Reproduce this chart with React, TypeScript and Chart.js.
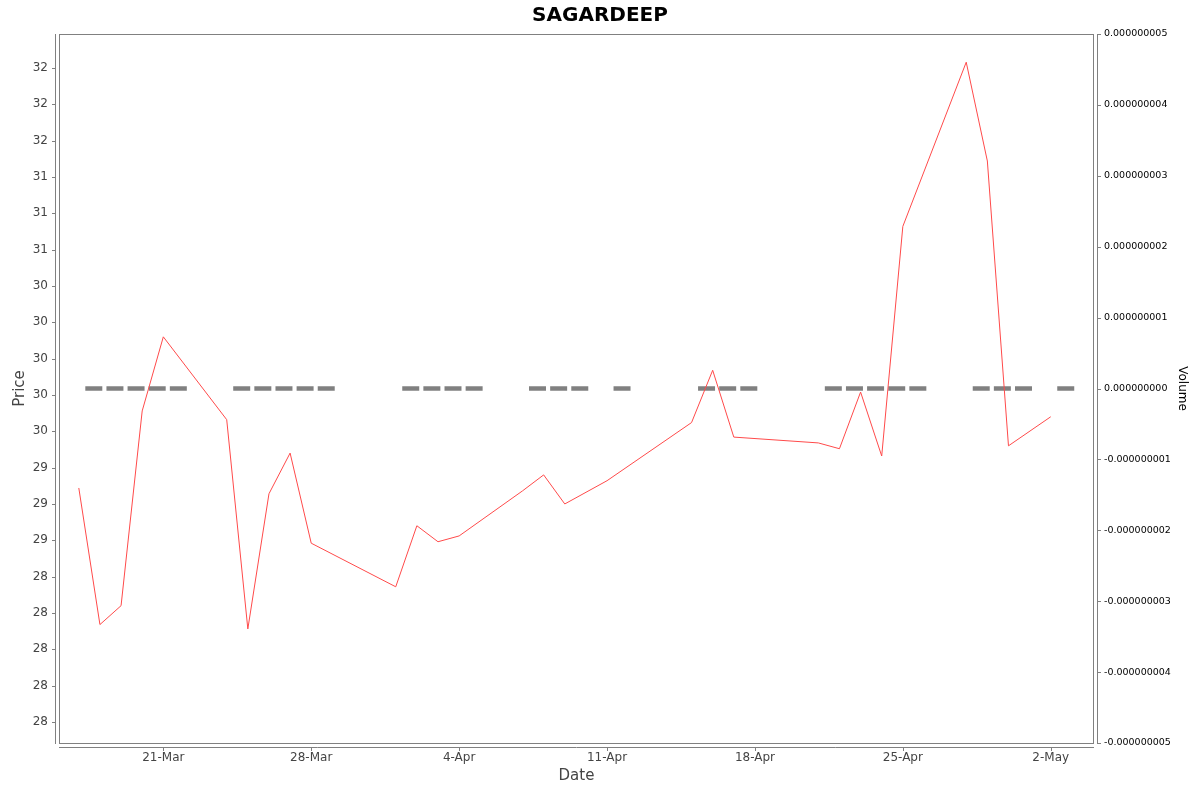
import React, { useEffect, useRef } from "react";
import { Chart, registerables } from "chart.js";

Chart.register(...registerables);

const TITLE = "SAGARDEEP";

const DATES = [
  "2025-03-17", "2025-03-18", "2025-03-19", "2025-03-20", "2025-03-21",
  "2025-03-24", "2025-03-25", "2025-03-26", "2025-03-27", "2025-03-28",
  "2025-04-01", "2025-04-02", "2025-04-03", "2025-04-04",
  "2025-04-07", "2025-04-08", "2025-04-09", "2025-04-11",
  "2025-04-15", "2025-04-16", "2025-04-17",
  "2025-04-21", "2025-04-22", "2025-04-23", "2025-04-24", "2025-04-25",
  "2025-04-28", "2025-04-29", "2025-04-30", "2025-05-02",
];

const PRICES = [
  29.11, 28.17, 28.30, 29.64, 30.15,
  29.58, 28.14, 29.07, 29.35, 28.73,
  28.43, 28.85, 28.74, 28.78,
  29.09, 29.20, 29.00, 29.16,
  29.56, 29.92, 29.46,
  29.42, 29.38, 29.77, 29.33, 30.91,
  32.04, 31.36, 29.40, 29.60,
];

const VOLUMES = [
  0, 0, 0, 0, 0,
  0, 0, 0, 0, 0,
  0, 0, 0, 0,
  0, 0, 0, 0,
  0, 0, 0,
  0, 0, 0, 0, 0,
  0, 0, 0, 0,
];

const PRICE_TICKS = [
  27.5, 27.75, 28.0, 28.25, 28.5, 28.75, 29.0, 29.25, 29.5, 29.75,
  30.0, 30.25, 30.5, 30.75, 31.0, 31.25, 31.5, 31.75, 32.0,
];

const VOLUME_TICKS = [-5e-9, -4e-9, -3e-9, -2e-9, -1e-9, 0, 1e-9, 2e-9, 3e-9, 4e-9, 5e-9];

const DATE_TICKS = ["2025-03-21", "2025-03-28", "2025-04-04", "2025-04-11", "2025-04-18", "2025-04-25", "2025-05-02"];

const MONTHS = ["Jan", "Feb", "Mar", "Apr", "May", "Jun", "Jul", "Aug", "Sep", "Oct", "Nov", "Dec"];

const DAY_MS = 86400000;
function dayNum(s: string): number {
  const [y, m, d] = s.split("-").map(Number);
  return Date.UTC(y, m - 1, d) / DAY_MS;
}
function dateLabel(v: number): string {
  const d = new Date(Math.round(v) * DAY_MS);
  return `${d.getUTCDate()}-${MONTHS[d.getUTCMonth()]}`;
}
function halfEven(v: number): string {
  const f = Math.floor(v);
  const diff = v - f;
  if (Math.abs(diff - 0.5) < 1e-9) return String(f % 2 === 0 ? f : f + 1);
  return String(Math.round(v));
}
function fmtVol(v: number): string {
  const n = Math.round(v * 1e9);
  return (n < 0 ? "-" : "") + "0.00000000" + Math.abs(n);
}

const FONT = "'DejaVu Sans', 'Liberation Sans', sans-serif";
const AXIS_GRAY = "#808080";

const framePlugin = {
  id: "frame",
  afterDraw(chart: any) {
    const { ctx, chartArea } = chart;
    const { left, right, top, bottom } = chartArea;
    ctx.save();
    ctx.strokeStyle = AXIS_GRAY;
    ctx.lineWidth = 1;
    // plot outline
    ctx.strokeRect(left - 0.5, top + 0.5, right - left + 1, bottom - top);
    // left axis line + ticks
    const ly = chart.scales.y;
    ctx.beginPath();
    ctx.moveTo(left - 4.5, top);
    ctx.lineTo(left - 4.5, bottom + 1);
    ly.ticks.forEach((t: any) => {
      const py = Math.round(ly.getPixelForValue(t.value)) + 0.5;
      ctx.moveTo(left - 8, py);
      ctx.lineTo(left - 4, py);
    });
    // right axis line + ticks
    const ry = chart.scales.yVol;
    ctx.moveTo(right + 4.5, top);
    ctx.lineTo(right + 4.5, bottom + 1);
    ry.ticks.forEach((t: any) => {
      const py = Math.round(ry.getPixelForValue(t.value)) + 0.5;
      ctx.moveTo(right + 4, py);
      ctx.lineTo(right + 8, py);
    });
    // bottom axis line + ticks
    const bx = chart.scales.x;
    ctx.moveTo(left - 1, bottom + 4.5);
    ctx.lineTo(right + 1, bottom + 4.5);
    bx.ticks.forEach((t: any) => {
      const px = Math.round(bx.getPixelForValue(t.value)) + 0.5;
      ctx.moveTo(px, bottom + 4);
      ctx.lineTo(px, bottom + 8);
    });
    ctx.stroke();
    // title
    ctx.fillStyle = "#000";
    ctx.font = `bold 20px ${FONT}`;
    ctx.textAlign = "center";
    ctx.textBaseline = "alphabetic";
    ctx.fillText(TITLE, 600, 20.5);
    ctx.restore();
  },
};

export default function App() {
  const ref = useRef<HTMLCanvasElement | null>(null);

  useEffect(() => {
    if (!ref.current) return;
    const priceData = DATES.map((d, i) => ({ x: dayNum(d), y: PRICES[i] }));
    const VOLUME_SHIFT = 0.71;
    const volData = DATES.map((d, i) => ({ x: dayNum(d) + VOLUME_SHIFT, y: VOLUMES[i] }));
    const xMin = dayNum("2025-03-21") - 4.89;
    const xMax = dayNum("2025-05-04");

    const chart = new Chart(ref.current, {
      type: "line",
      data: {
        datasets: [
          {
            label: "Price",
            data: priceData,
            borderColor: "#ff4a4a",
            borderWidth: 1,
            pointRadius: 0,
            tension: 0,
            yAxisID: "y",
            xAxisID: "x",
            order: 1,
          } as any,
          {
            type: "scatter",
            label: "Volume",
            data: volData,
            showLine: false,
            pointStyle: "line",
            pointRadius: 8.5,
            pointHoverRadius: 8.5,
            pointBorderWidth: 4.5,
            pointBorderColor: "#808080",
            pointBackgroundColor: "#808080",
            yAxisID: "yVol",
            xAxisID: "x",
            order: 2,
          } as any,
        ],
      },
      options: {
        animation: false,
        responsive: true,
        maintainAspectRatio: false,
        devicePixelRatio: 1,
        layout: { padding: { top: 34, left: 0, right: 0, bottom: 0 } },
        plugins: {
          legend: { display: false },
          title: { display: false },
          tooltip: { enabled: false },
        },
        events: [],
        scales: {
          x: {
            type: "linear",
            position: "bottom",
            min: xMin,
            max: xMax,
            bounds: "data",
            grid: { display: false, drawTicks: false },
            border: { display: false },
            afterBuildTicks: (s: any) => {
              s.ticks = DATE_TICKS.map((d) => ({ value: dayNum(d) }));
            },
            afterFit: (s: any) => {
              s.height = 49;
            },
            ticks: {
              autoSkip: false,
              maxRotation: 0,
              padding: 8,
              color: "#444444",
              font: { family: FONT, size: 12 },
              callback: (v: any) => dateLabel(Number(v)),
            },
            title: {
              display: true,
              text: "Date",
              color: "#444444",
              font: { family: FONT, size: 15 },
              padding: { top: 0, bottom: 7 },
            },
          },
          y: {
            type: "linear",
            position: "left",
            min: 27.355,
            max: 32.234,
            bounds: "data",
            grid: { display: false, drawTicks: false },
            border: { display: false },
            afterBuildTicks: (s: any) => {
              s.ticks = PRICE_TICKS.map((v) => ({ value: v }));
            },
            afterFit: (s: any) => {
              s.width = 60;
            },
            ticks: {
              padding: 12,
              color: "#444444",
              font: { family: FONT, size: 12 },
              callback: (v: any) => halfEven(Number(v)),
            },
            title: {
              display: true,
              text: "Price",
              color: "#444444",
              font: { family: FONT, size: 15 },
              padding: { top: 11, bottom: 0 },
            },
          },
          yVol: {
            type: "linear",
            position: "right",
            min: -5e-9,
            max: 5e-9,
            bounds: "data",
            grid: { display: false, drawTicks: false },
            border: { display: false },
            afterBuildTicks: (s: any) => {
              s.ticks = VOLUME_TICKS.map((v) => ({ value: v }));
            },
            afterFit: (s: any) => {
              s.width = 107;
            },
            ticks: {
              padding: 11,
              color: "#000000",
              font: { family: FONT, size: 9.5 },
              callback: (v: any) => fmtVol(Number(v)),
            },
            title: {
              display: true,
              text: "Volume",
              color: "#000000",
              font: { family: FONT, size: 12 },
              padding: { top: 11, bottom: 0 },
            },
          },
        },
      } as any,
      plugins: [framePlugin],
    });
    return () => chart.destroy();
  }, []);

  return (
    <div style={{ position: "absolute", left: 0, top: 0, width: 1200, height: 792, background: "#fff" }}>
      <canvas ref={ref} />
    </div>
  );
}
